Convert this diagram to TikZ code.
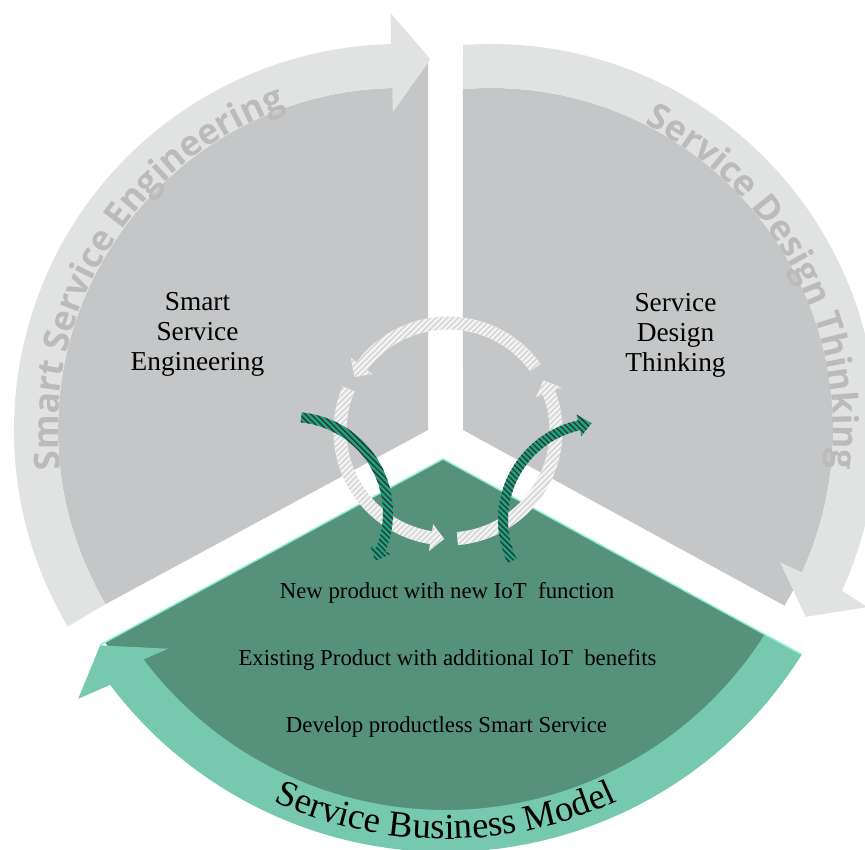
\documentclass[tikz,border=0pt]{standalone}
\usepackage{fontspec}
\setmainfont{Liberation Serif}
\newfontfamily\bandfam{Open Sans}
\usetikzlibrary{decorations.text,patterns.meta}
\definecolor{sgrey}{HTML}{C4C6C7}
\definecolor{lband}{HTML}{E1E2E2}
\definecolor{dgreen}{HTML}{56917C}
\definecolor{lgreen}{HTML}{76C8AF}
\definecolor{mint}{HTML}{8FF0CF}
\definecolor{tealarrow}{HTML}{1CA47F}
\definecolor{ringbase}{HTML}{F4F4F4}
\definecolor{ringline}{HTML}{D4D4D4}
\definecolor{bandtxt}{HTML}{BBBBBB}
\newcommand{\bandfont}{\bandfam\bfseries\fontsize{26.5}{30}\selectfont}
\newcommand{\RingArrow}[3]{(#1:114.5) arc[start angle=#1, end angle=#2, radius=114.5] -- (#2:121.5) -- (#3:108) -- (#2:94.5) -- (#2:101.5) arc[start angle=#2, end angle=#1, radius=101.5] -- cycle}
\begin{document}
\begin{tikzpicture}[x=0.75pt,y=0.75pt,
  sectorfill/.style={fill=sgrey},
  bandfill/.style={fill=lband},
  ringfill/.style={fill=ringbase, postaction={pattern={Lines[angle=45,distance=3pt,line width=1.1pt]}, pattern color=ringline}},
  hatchfill/.style={fill=tealarrow, postaction={pattern={Lines[angle=-45,distance=3pt,line width=1pt]}, pattern color=black!80}},
  sectorlabel/.style={font=\fontsize{20.5}{22.5}\selectfont, align=center, inner sep=0pt},
  itemlabel/.style={font=\fontsize{17.1}{20}\selectfont, inner sep=0pt, anchor=base},
]
\path[use as bounding box, fill=white] (0,0) rectangle (865,850);

% left grey sector with its arrow band
\begin{scope}[shift={(400,420)}]
  \fill[sectorfill] (28,0) -- (28,369) -- (-8,369) -- (91.3:342) arc[start angle=91.3, end angle=210.6, radius=342] -- cycle;
  \fill[bandfill] (210.6:342) -- (210.6:386) arc[start angle=210.6, end angle=91.3, radius=386] -- (91.3:417) -- (85.3:372) -- (91.3:318) -- (91.3:342) arc[start angle=91.3, end angle=210.6, radius=342] -- cycle;
  \path[decorate, decoration={text along path, text align=center, text color=bandtxt, text={|\bandfont|Smart Service Engineering}}] (210:342) arc[start angle=210, end angle=86, radius=342];
\end{scope}

% right grey sector with its arrow band
\begin{scope}[shift={(491,420)}]
  \fill[sectorfill] (-28,0) -- (94.7:342) arc[start angle=94.7, end angle=-30.9, radius=342] -- cycle;
  \fill[bandfill] (94.7:342) -- (94.16:386) arc[start angle=94.16, end angle=-24.6, radius=386] -- (-25.2:416) -- (-30.7:366) -- (-24.6:318) -- (-24.6:342) arc[start angle=-24.6, end angle=94.7, radius=342] -- cycle;
  \path[decorate, decoration={text along path, text align=center, text color=bandtxt, text={|\bandfont|Service Design Thinking}}] (90:342) arc[start angle=90, end angle=-33, radius=342];
\end{scope}

% green sector with its arrow band
\begin{scope}[shift={(445.5,418)}]
  \fill[dgreen] (-2.5,-27) -- (-345.5,-213) -- (-148.3:400) arc[start angle=-148.3, end angle=-32.2, radius=400] -- cycle;
  \fill[lgreen] (-32.4:378) -- (-32:420) arc[start angle=-32, end angle=-143, radius=420] -- (-144:454) -- (-148.3:406) -- (-142:352) -- (-143:378) arc[start angle=-143, end angle=-32.4, radius=378] -- cycle;
  \draw[mint, line width=1.1pt] (-345.5,-213) -- (-2.5,-27) -- (-32:420);
  \path[decorate, decoration={text along path, text align=center, text color=black, text={|\fontsize{27.5}{30}\selectfont|Service Business Model}}] (226:407) arc[start angle=226, end angle=314, radius=407];
\end{scope}

% texts
\node[sectorlabel] (sse) at (197.5,516) {Smart\\Service\\Engineering};
\node[sectorlabel] (sdt) at (675.5,514.5) {Service\\Design\\Thinking};
\node[itemlabel] (np) at (447,251) {New product with new IoT~ function};
\node[itemlabel] (ep) at (447.5,184) {Existing Product with additional IoT~ benefits};
\node[itemlabel] (dp) at (446.5,117) {Develop productless Smart Service};

% central cycle
\begin{scope}[shift={(448,419)}]
  \fill[ringfill] \RingArrow{36}{143}{150};
  \fill[ringfill] \RingArrow{157}{261}{268};
  \fill[ringfill] \RingArrow{275}{381}{388};
\end{scope}

% hatched green arrows
\begin{scope}[shift={(292,337)}]
  \fill[hatchfill] (84.5:101) arc[start angle=84.5, end angle=-22.5, radius=101] -- (-22.5:107) -- (-30:96) -- (-22.5:85) -- (-22.5:91) arc[start angle=-22.5, end angle=84.5, radius=91] -- cycle;
\end{scope}
\begin{scope}[shift={(600,330)}]
  \fill[hatchfill] (205:102) arc[start angle=205, end angle=102.5, radius=102] -- (102.5:108) -- (95:97) -- (102.5:86) -- (102.5:92) arc[start angle=102.5, end angle=205, radius=92] -- cycle;
\end{scope}
\end{tikzpicture}
\end{document}
